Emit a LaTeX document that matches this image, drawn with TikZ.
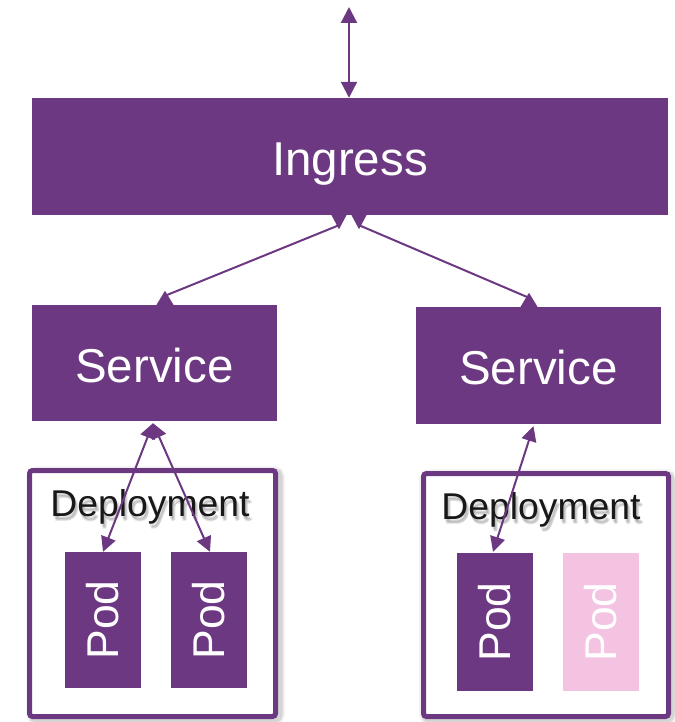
\documentclass[tikz,border=0pt]{standalone}
\usepackage{fontspec}
\setmainfont{Liberation Sans}
\usetikzlibrary{arrows.meta,calc}

\definecolor{kpurple}{RGB}{108,56,129}
\definecolor{kpink}{RGB}{244,195,226}
\definecolor{ktext}{RGB}{24,24,24}

\begin{document}
\begin{tikzpicture}[x=1pt,y=-1pt,
  block/.style={fill=kpurple, text=white, inner sep=0pt, text height=38pt, text depth=0pt,
    font=\fontsize{47.5}{50}\selectfont},
  pod/.style={fill=kpurple, text=white, inner sep=0pt, minimum width=76pt, minimum height=136pt,
    font=\fontsize{44.5}{46}\selectfont},
  idlepod/.style={pod, fill=kpink},
  deploy/.style={draw=kpurple, fill=white, line width=5pt, rounded corners=3pt, inner sep=0pt},
  deploylabel/.style={text=ktext, inner sep=0pt, anchor=base, font=\fontsize{37.3}{40}\selectfont},
  link/.style={draw=kpurple, line width=2pt},
  duplex/.style={link, {Triangle[width=15pt,length=15pt]}-{Triangle[width=15pt,length=15pt]}},
  tipup/.style={fill=kpurple},
]
\useasboundingbox (0,0) rectangle (674,722);

% ---- deployment frames with a soft drop shadow ----
\foreach \w/\o in {13/0.04,10/0.06,8/0.08} {
  \draw[black, opacity=\o, line width=\w pt, rounded corners=4pt] (32.5,472.5) rectangle (278.5,718.5);
  \draw[black, opacity=\o, line width=\w pt, rounded corners=4pt] (425.5,475.5) rectangle (670.5,718.5);
}
\node[deploy, minimum width=246pt, minimum height=246pt] (depL) at (152.5,593.5) {};
\node[deploy, minimum width=245pt, minimum height=243pt] (depR) at (546,595) {};

% deployment captions, with a blurred shadow behind them
\foreach \dx/\dy in {1/3,3/4,2/5} {
  \node[deploylabel, text=black, opacity=0.1] at (150+\dx,516+\dy) {Deployment};
  \node[deploylabel, text=black, opacity=0.1] at (541+\dx,519+\dy) {Deployment};
}
\node[deploylabel] (capL) at (150,516) {Deployment};
\node[deploylabel] (capR) at (541,519) {Deployment};

% ---- main blocks ----
\node[block, minimum width=636pt, minimum height=117pt] (ing) at (350,156.5) {Ingress};
\node[block, minimum width=245pt, minimum height=116pt] (svcL) at (154.5,363) {Service};
\node[block, minimum width=245pt, minimum height=117pt] (svcR) at (538.5,365.5) {Service};

% ---- pods ----
\node[pod] (podL1) at (103,620) {\rotatebox{90}{Pod}};
\node[pod] (podL2) at (209,620) {\rotatebox{90}{Pod}};
\node[pod, minimum height=138pt] (podR1) at (495,622) {\rotatebox{90}{Pod}};
\node[idlepod, minimum height=138pt] (podR2) at (601,622) {\rotatebox{90}{Pod}};

% ---- external traffic into the ingress ----
\coordinate (ext) at (349,7);
\draw[link, line width=2.2pt, {Triangle[width=16pt,length=16pt]}-{Triangle[width=16pt,length=16pt]}]
  (ext) -- (ext |- ing.north);

% ---- ingress to services ----
\coordinate (iL) at ($(ing.south)+(-11,14)$);
\coordinate (iR) at ($(ing.south)+(9,14)$);
\coordinate (sL) at ($(svcL.north)+(10.5,-14)$);
\coordinate (sR) at ($(svcR.north)+(-9.5,-14)$);
\draw[link] ($(iL)+(0,-4)$) -- ($(sL)+(0,5)$);
\draw[link] ($(iR)+(0,-4)$) -- ($(sR)+(0,5)$);
\fill[tipup] (iL) -- ++(-8,-15) -- ++(16,0) -- cycle;
\fill[tipup] (iR) -- ++(-8,-15) -- ++(16,0) -- cycle;
\fill[tipup] (sL) -- ++(-8.5,14) -- ++(17,0) -- cycle;
\fill[tipup] (sR) -- ++(-8.5,14) -- ++(17,0) -- cycle;

% ---- services to pods ----
\draw[duplex] ($(svcL.south)+(-1.5,2)$) -- (podL1.north);
\draw[duplex] ($(svcL.south)+(-1.5,2)$) -- ($(podL2.north)+(1,0)$);
\draw[duplex] ($(svcR.south)+(-5,2)$) -- ($(podR1.north)+(-2,-1)$);
\end{tikzpicture}
\end{document}
